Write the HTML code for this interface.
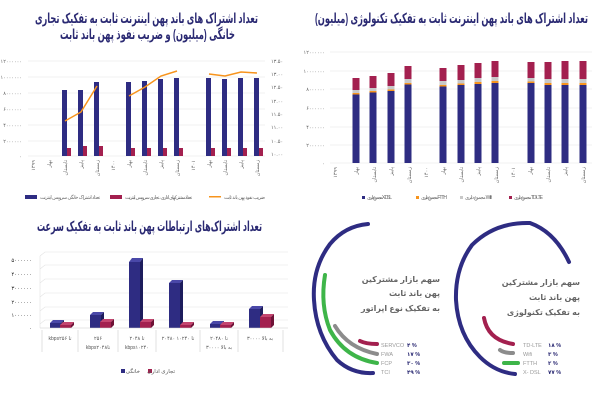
<!DOCTYPE html>
<html><head><meta charset="utf-8"><style>
body{margin:0;background:#fff;}
svg{display:block;font-family:"Liberation Sans","DejaVu Sans",sans-serif;}
.t{font-weight:bold;fill:#2b2a73;font-size:14px;}
.s{font-size:5px;fill:#666;}
.g{stroke:#e2e2e2;stroke-width:0.6;}
</style></head><body>
<svg width="600" height="400" viewBox="0 0 600 400">
<rect width="600" height="400" fill="#fff"/>
<!-- TOP LEFT -->
<text class="t" x="35" y="23" textLength="223" lengthAdjust="spacingAndGlyphs">تعداد اشتراک های باند پهن اینترنت ثابت به تفکیک تجاری</text>
<text class="t" x="60" y="39" textLength="175" lengthAdjust="spacingAndGlyphs">خانگی (میلیون) و ضریب نفوذ پهن باند ثابت</text>
<g class="g">
<line x1="28" x2="265" y1="61" y2="61"/><line x1="28" x2="265" y1="77" y2="77"/><line x1="28" x2="265" y1="93" y2="93"/><line x1="28" x2="265" y1="109" y2="109"/><line x1="28" x2="265" y1="125" y2="125"/><line x1="28" x2="265" y1="141" y2="141"/><line x1="28" x2="265" y1="156" y2="156"/>
</g>
<g class="s" text-anchor="end">
<text x="22" y="63">۱۲۰۰۰۰۰۰</text><text x="22" y="79">۱۰۰۰۰۰۰۰</text><text x="22" y="95">۸۰۰۰۰۰۰</text><text x="22" y="111">۶۰۰۰۰۰۰</text><text x="22" y="127">۴۰۰۰۰۰۰</text><text x="22" y="143">۲۰۰۰۰۰۰</text><text x="22" y="158">۰</text>
</g>
<g class="s">
<text x="271" y="63">۱۳.۵۰</text><text x="271" y="76">۱۳.۰۰</text><text x="271" y="89">۱۲.۵۰</text><text x="271" y="103">۱۲.۰۰</text><text x="271" y="116">۱۱.۵۰</text><text x="271" y="129">۱۱.۰۰</text><text x="271" y="143">۱۰.۵۰</text><text x="271" y="156">۱۰.۰۰</text>
</g>
<g fill="#2e2c82">
<rect x="62" y="90" width="5" height="66"/><rect x="78" y="90" width="5" height="66"/><rect x="94" y="82" width="5" height="74"/>
<rect x="126" y="82" width="5" height="74"/><rect x="142" y="81" width="5" height="75"/><rect x="158" y="79" width="5" height="77"/><rect x="174" y="78" width="5" height="78"/>
<rect x="206" y="78" width="5" height="78"/><rect x="222" y="79" width="5" height="77"/><rect x="238" y="78" width="5" height="78"/><rect x="254" y="78" width="5" height="78"/>
</g>
<g fill="#a3204f">
<rect x="67" y="148" width="4" height="8"/><rect x="83" y="146" width="4" height="10"/><rect x="99" y="146" width="4" height="10"/>
<rect x="131" y="148" width="4" height="8"/><rect x="147" y="148" width="4" height="8"/><rect x="163" y="148" width="4" height="8"/><rect x="179" y="148" width="4" height="8"/>
<rect x="211" y="148" width="4" height="8"/><rect x="227" y="148" width="4" height="8"/><rect x="243" y="148" width="4" height="8"/><rect x="259" y="148" width="4" height="8"/>
</g>
<g fill="none" stroke="#f7941d" stroke-width="1.5">
<polyline points="65,121 81,112 97,86"/><polyline points="129,96 145,87 161,76 177,71"/><polyline points="209,74 225,76 241,72 257,73"/>
</g>
<g class="s" text-anchor="end">
<text transform="translate(35,160) rotate(-90)">۱۳۹۹</text><text transform="translate(51,160) rotate(-90)">بهار</text><text transform="translate(67,160) rotate(-90)">تابستان</text><text transform="translate(83,160) rotate(-90)">پاییز</text><text transform="translate(99,160) rotate(-90)">زمستان</text><text transform="translate(115,160) rotate(-90)">۱۴۰۰</text><text transform="translate(131,160) rotate(-90)">بهار</text><text transform="translate(147,160) rotate(-90)">تابستان</text><text transform="translate(163,160) rotate(-90)">پاییز</text><text transform="translate(179,160) rotate(-90)">زمستان</text><text transform="translate(195,160) rotate(-90)">۱۴۰۱</text><text transform="translate(211,160) rotate(-90)">بهار</text><text transform="translate(227,160) rotate(-90)">تابستان</text><text transform="translate(243,160) rotate(-90)">پاییز</text><text transform="translate(259,160) rotate(-90)">زمستان</text>
</g>
<rect x="25" y="195" width="12" height="4" fill="#2e2c82"/><text class="s" x="40" y="199" textLength="60">تعداد اشتراک خانگی سرویس اینترنت</text>
<rect x="110" y="195" width="12" height="4" fill="#a3204f"/><text class="s" x="125" y="199" textLength="67">تعدادمشترکهای اداری ، تجاری سرویس اینترنت</text>
<rect x="209" y="196" width="12" height="1.5" fill="#f7941d"/><text class="s" x="224" y="199" textLength="41">ضریب نفوذ پهن باند ثابت</text>

<!-- TOP RIGHT -->
<text class="t" x="315" y="23" textLength="273" lengthAdjust="spacingAndGlyphs">تعداد اشتراک های باند پهن اینترنت ثابت به تفکیک تکنولوژی (میلیون)</text>
<g class="g">
<line x1="330" x2="592" y1="52" y2="52"/><line x1="330" x2="592" y1="71" y2="71"/><line x1="330" x2="592" y1="89" y2="89"/><line x1="330" x2="592" y1="108" y2="108"/><line x1="330" x2="592" y1="127" y2="127"/><line x1="330" x2="592" y1="145" y2="145"/><line x1="330" x2="592" y1="163" y2="163"/>
</g>
<g class="s" text-anchor="end">
<text x="325" y="54">۱۲۰۰۰۰۰۰</text><text x="325" y="73">۱۰۰۰۰۰۰۰</text><text x="325" y="91">۸۰۰۰۰۰۰</text><text x="325" y="110">۶۰۰۰۰۰۰</text><text x="325" y="129">۴۰۰۰۰۰۰</text><text x="325" y="147">۲۰۰۰۰۰۰</text><text x="325" y="165">۰</text>
</g>
<g>
<g transform="translate(352.5,0)"><rect y="78" width="7" height="12" fill="#a3204f"/><rect y="90" width="7" height="3" fill="#c8c8c8"/><rect y="93" width="7" height="1.5" fill="#f7941d"/><rect y="94.5" width="7" height="68.5" fill="#2e2c82"/></g>
<g transform="translate(369.5,0)"><rect y="76" width="7" height="12" fill="#a3204f"/><rect y="88" width="7" height="3" fill="#c8c8c8"/><rect y="91" width="7" height="1.5" fill="#f7941d"/><rect y="92.5" width="7" height="70.5" fill="#2e2c82"/></g>
<g transform="translate(387.5,0)"><rect y="73" width="7" height="13" fill="#a3204f"/><rect y="86" width="7" height="3.5" fill="#c8c8c8"/><rect y="89.5" width="7" height="1.5" fill="#f7941d"/><rect y="91" width="7" height="72" fill="#2e2c82"/></g>
<g transform="translate(404.5,0)"><rect y="66" width="7" height="13" fill="#a3204f"/><rect y="79" width="7" height="4" fill="#c8c8c8"/><rect y="83" width="7" height="1.5" fill="#f7941d"/><rect y="84.5" width="7" height="78.5" fill="#2e2c82"/></g>
<g transform="translate(439.5,0)"><rect y="68" width="7" height="13" fill="#a3204f"/><rect y="81" width="7" height="4" fill="#c8c8c8"/><rect y="85" width="7" height="1.5" fill="#f7941d"/><rect y="86.5" width="7" height="76.5" fill="#2e2c82"/></g>
<g transform="translate(457.5,0)"><rect y="65" width="7" height="15" fill="#a3204f"/><rect y="80" width="7" height="3.5" fill="#c8c8c8"/><rect y="83.5" width="7" height="1.5" fill="#f7941d"/><rect y="85" width="7" height="78" fill="#2e2c82"/></g>
<g transform="translate(474.5,0)"><rect y="63" width="7" height="15" fill="#a3204f"/><rect y="78" width="7" height="4" fill="#c8c8c8"/><rect y="82" width="7" height="2" fill="#f7941d"/><rect y="84" width="7" height="79" fill="#2e2c82"/></g>
<g transform="translate(491.5,0)"><rect y="61" width="7" height="16" fill="#a3204f"/><rect y="77" width="7" height="4" fill="#c8c8c8"/><rect y="81" width="7" height="2" fill="#f7941d"/><rect y="83" width="7" height="80" fill="#2e2c82"/></g>
<g transform="translate(527.5,0)"><rect y="62" width="7" height="16" fill="#a3204f"/><rect y="78" width="7" height="3.5" fill="#c8c8c8"/><rect y="81.5" width="7" height="1.5" fill="#f7941d"/><rect y="83" width="7" height="80" fill="#2e2c82"/></g>
<g transform="translate(544.5,0)"><rect y="62" width="7" height="17" fill="#a3204f"/><rect y="79" width="7" height="4" fill="#c8c8c8"/><rect y="83" width="7" height="2" fill="#f7941d"/><rect y="85" width="7" height="78" fill="#2e2c82"/></g>
<g transform="translate(561.5,0)"><rect y="61" width="7" height="18" fill="#a3204f"/><rect y="79" width="7" height="4" fill="#c8c8c8"/><rect y="83" width="7" height="2" fill="#f7941d"/><rect y="85" width="7" height="78" fill="#2e2c82"/></g>
<g transform="translate(579.5,0)"><rect y="61" width="7" height="18" fill="#a3204f"/><rect y="79" width="7" height="4" fill="#c8c8c8"/><rect y="83" width="7" height="2" fill="#f7941d"/><rect y="85" width="7" height="78" fill="#2e2c82"/></g>
</g>
<g class="s" text-anchor="end">
<text transform="translate(337,167) rotate(-90)">۱۳۹۹</text><text transform="translate(358,167) rotate(-90)">بهار</text><text transform="translate(376,167) rotate(-90)">تابستان</text><text transform="translate(393,167) rotate(-90)">پاییز</text><text transform="translate(411,167) rotate(-90)">زمستان</text><text transform="translate(428,167) rotate(-90)">۱۴۰۰</text><text transform="translate(445,167) rotate(-90)">بهار</text><text transform="translate(463,167) rotate(-90)">تابستان</text><text transform="translate(480,167) rotate(-90)">پاییز</text><text transform="translate(498,167) rotate(-90)">زمستان</text><text transform="translate(515,167) rotate(-90)">۱۴۰۱</text><text transform="translate(532,167) rotate(-90)">بهار</text><text transform="translate(550,167) rotate(-90)">تابستان</text><text transform="translate(567,167) rotate(-90)">پاییز</text><text transform="translate(585,167) rotate(-90)">زمستان</text>
</g>
<rect x="362" y="196" width="3" height="3" fill="#2e2c82"/><text class="s" x="367" y="199" textLength="25">مجموع دایری X-DSL</text>
<rect x="416" y="196" width="3" height="3" fill="#f7941d"/><text class="s" x="421" y="199" textLength="26">مجموع دایری FTTH</text>
<rect x="460" y="196" width="3" height="3" fill="#c8c8c8"/><text class="s" x="465" y="199" textLength="27">مجموع دایری Wifi</text>
<rect x="509" y="196" width="3" height="3" fill="#a3204f"/><text class="s" x="514" y="199" textLength="29">مجموع دایری TD-LTE</text>

<!-- BOTTOM LEFT -->
<text class="t" x="37" y="231" textLength="225" lengthAdjust="spacingAndGlyphs">تعداد اشتراک‌های ارتباطات پهن باند ثابت به تفکیک سرعت</text>
<g class="g">
<polyline fill="none" points="40,256 45,252 288,252"/><polyline fill="none" points="40,269 45,265 288,265"/><polyline fill="none" points="40,283 45,279 288,279"/><polyline fill="none" points="40,297 45,293 288,293"/><polyline fill="none" points="40,311 45,307 288,307"/><polyline fill="none" points="40,324 45,320 288,320"/>
<line x1="40" y1="256" x2="40" y2="328"/>
</g>
<g font-size="5.5" fill="#333" text-anchor="end">
<text x="32" y="262">۵۰۰۰۰۰۰</text><text x="32" y="276">۴۰۰۰۰۰۰</text><text x="32" y="290">۳۰۰۰۰۰۰</text><text x="32" y="304">۲۰۰۰۰۰۰</text><text x="32" y="317">۱۰۰۰۰۰۰</text><text x="32" y="330">۰</text>
</g>
<g>
<g fill="#2e2c82">
<rect x="50" y="323" width="11" height="5"/><rect x="90" y="315" width="11" height="13"/><rect x="129" y="262" width="11" height="66"/><rect x="169" y="283" width="11" height="45"/><rect x="210" y="324" width="11" height="4"/><rect x="249" y="309" width="11" height="19"/>
</g>
<g fill="#4a48a8">
<polygon points="50,323 53,320 64,320 61,323"/><polygon points="90,315 93,312 104,312 101,315"/><polygon points="129,262 132,258 143,258 140,262"/><polygon points="169,283 172,280 183,280 180,283"/><polygon points="210,324 213,321 224,321 221,324"/><polygon points="249,309 252,306 263,306 260,309"/>
</g>
<g fill="#1d1c5c">
<polygon points="61,323 64,320 64,325 61,328"/><polygon points="101,315 104,312 104,325 101,328"/><polygon points="140,262 143,258 143,325 140,328"/><polygon points="180,283 183,280 183,325 180,328"/><polygon points="221,324 224,321 224,325 221,328"/><polygon points="260,309 263,306 263,325 260,328"/>
</g>
<g fill="#a3204f">
<rect x="60" y="325" width="11" height="3"/><rect x="100" y="322" width="11" height="6"/><rect x="140" y="322" width="11" height="6"/><rect x="180" y="325" width="11" height="3"/><rect x="220" y="325" width="11" height="3"/><rect x="260" y="317" width="11" height="11"/>
</g>
<g fill="#c4456f">
<polygon points="60,325 63,322 74,322 71,325"/><polygon points="100,322 103,319 114,319 111,322"/><polygon points="140,322 143,319 154,319 151,322"/><polygon points="180,325 183,322 194,322 191,325"/><polygon points="220,325 223,322 234,322 231,325"/><polygon points="260,317 263,314 274,314 271,317"/>
</g>
<g fill="#6e1236">
<polygon points="71,325 74,322 74,325 71,328"/><polygon points="111,322 114,319 114,325 111,328"/><polygon points="151,322 154,319 154,325 151,328"/><polygon points="191,325 194,322 194,325 191,328"/><polygon points="231,325 234,322 234,325 231,328"/><polygon points="271,317 274,314 274,325 271,328"/>
</g>
</g>
<line x1="40" y1="328" x2="288" y2="328" stroke="#ccc" stroke-width="0.6"/>
<g stroke="#ccc" stroke-width="0.6">
<line x1="42" y1="330" x2="42" y2="352"/><line x1="78" y1="330" x2="78" y2="352"/><line x1="118" y1="330" x2="118" y2="352"/><line x1="156" y1="330" x2="156" y2="352"/><line x1="200" y1="330" x2="200" y2="352"/><line x1="238" y1="330" x2="238" y2="352"/><line x1="283" y1="330" x2="283" y2="352"/>
</g>
<g font-size="5" fill="#555" text-anchor="middle">
<text x="60" y="340">kbps۲۵۶ تا</text>
<text x="98" y="340">۲۵۶</text><text x="98" y="349">kbps۲۰۴۸تا</text>
<text x="137" y="340">۲۰۴۸ تا</text><text x="137" y="349">kbps۱۰۲۴۰</text>
<text x="178" y="340">۲۰۴۸۰ تا ۱۰۲۴۰</text>
<text x="219" y="340">۲۰۴۸۰ تا</text><text x="219" y="349">۳۰۰۰۰ به بالا</text>
<text x="260" y="340">۳۰۰۰۰ به بالا</text>
</g>
<rect x="121" y="369" width="4" height="4" fill="#2e2c82"/><text font-size="5.5" fill="#555" x="140" y="373" text-anchor="end">خانگی</text>
<rect x="148" y="369" width="4" height="4" fill="#a3204f"/><text font-size="5.5" fill="#555" x="175" y="373" text-anchor="end">تجاری اداری</text>

<!-- BOTTOM RIGHT -->
<g fill="none" stroke-linecap="round" stroke-linejoin="round">
<path d="M368,224 Q345,226 330,244 Q312,268 314,300 Q316,335 337,360 Q352,374 373,373" stroke="#2e2c82" stroke-width="4"/>
<path d="M325,275 Q320,305 330,330 Q345,358 377,363" stroke="#3eb549" stroke-width="4"/>
<path d="M335,326 Q348,348 377,354" stroke="#8c8c8c" stroke-width="4"/>
<path d="M360,341 Q366,344 377,344" stroke="#a3204f" stroke-width="4"/>
<path d="M569,262 Q555,232 530,223 Q495,222 472,245 Q455,268 456,300 Q458,335 480,357 Q495,372 515,374" stroke="#2e2c82" stroke-width="4"/>
<path d="M484,318 Q488,340 513,344" stroke="#a3204f" stroke-width="4"/>
<path d="M500,350 Q504,353 513,353" stroke="#8c8c8c" stroke-width="4"/>
<path d="M504,363 L518,363" stroke="#3eb549" stroke-width="4"/>
</g>
<g font-size="8" fill="#666" font-weight="bold" text-anchor="end">
<text x="440" y="282">سهم بازار مشترکین</text><text x="440" y="296">پهن باند ثابت</text><text x="440" y="311">به تفکیک نوع اپراتور</text>
<text x="580" y="285">سهم بازار مشترکین</text><text x="580" y="300">پهن باند ثابت</text><text x="580" y="315">به تفکیک تکنولوژی</text>
</g>
<g font-size="5.5" fill="#999">
<text x="381" y="347">SERVCO</text><text x="381" y="356">FWA</text><text x="381" y="365">FCP</text><text x="381" y="374">TCI</text>
<text x="523" y="347">TD-LTE</text><text x="523" y="356">Wifi</text><text x="523" y="365">FTTH</text><text x="523" y="374">X- DSL</text>
</g>
<g font-size="5.5" fill="#2b2a73" font-weight="bold">
<text x="407" y="347">۴ %</text><text x="407" y="356">۱۷ %</text><text x="407" y="365">۳۰ %</text><text x="407" y="374">۴۹ %</text>
<text x="548" y="347">۱۸ %</text><text x="548" y="356">۳ %</text><text x="548" y="365">۲ %</text><text x="548" y="374">۷۷ %</text>
</g>
</svg>
</body></html>
